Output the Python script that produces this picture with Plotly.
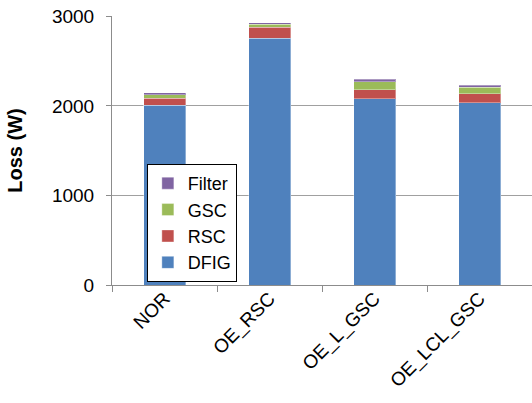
import plotly.graph_objects as go

categories = ["NOR", "OE_RSC", "OE_L_GSC", "OE_LCL_GSC"]
dfig = [2005, 2757, 2077, 2037]
rsc = [80, 123, 100, 96]
gsc = [40, 30, 94, 74]
filt = [20, 17, 26, 23]
series_names = ["DFIG", "RSC", "GSC", "Filter"]
y_ticks = [0, 1000, 2000, 3000]

colors = ["#4F81BD", "#C0504D", "#9BBB59", "#8064A2"]
font_family = "Liberation Sans, Arial, sans-serif"

fig = go.Figure()
for name, vals, col in zip(series_names, [dfig, rsc, gsc, filt], colors):
    fig.add_trace(go.Bar(
        x=categories, y=vals, name=name,
        marker=dict(color=col, line=dict(color="rgba(255,255,255,0.35)", width=1)),
    ))

fig.update_layout(
    barmode="stack",
    bargap=0.6,
    width=532, height=403,
    margin=dict(l=112, r=0, t=16, b=118),
    plot_bgcolor="white",
    paper_bgcolor="white",
    font=dict(family=font_family, size=19, color="black"),
    showlegend=True,
    legend=dict(
        traceorder="reversed",
        x=0.083, y=0.45, xanchor="left", yanchor="top",
        bgcolor="white", bordercolor="black", borderwidth=1,
        font=dict(size=18, family=font_family),
        itemwidth=30, tracegroupgap=0,
    ),
    xaxis=dict(
        automargin=False,
        showline=True, linecolor="#8c8c8c", linewidth=1,
        ticks="outside", tickson="boundaries", ticklen=6, tickcolor="#8c8c8c",
        tickangle=-45, tickfont=dict(size=19),
        ticklabelstandoff=-6,
        showgrid=False,
    ),
    yaxis=dict(
        automargin=False,
        range=[0, 3003], tickvals=y_ticks,
        showline=True, linecolor="#8c8c8c", linewidth=1,
        ticks="outside", ticklen=5, tickcolor="#8c8c8c",
        ticklabelstandoff=8, ticklabeloverflow="allow",
        showgrid=True, gridcolor="#a0a0a0", gridwidth=1,
        tickfont=dict(size=19),
        title=dict(text="<b>Loss (W)</b>", font=dict(size=20), standoff=23),
        zeroline=False,
    ),
)

fig.write_html(
    "out.html",
    config={"displayModeBar": False},
    post_script="document.body.style.margin='0';document.body.style.overflow='hidden';",
)
